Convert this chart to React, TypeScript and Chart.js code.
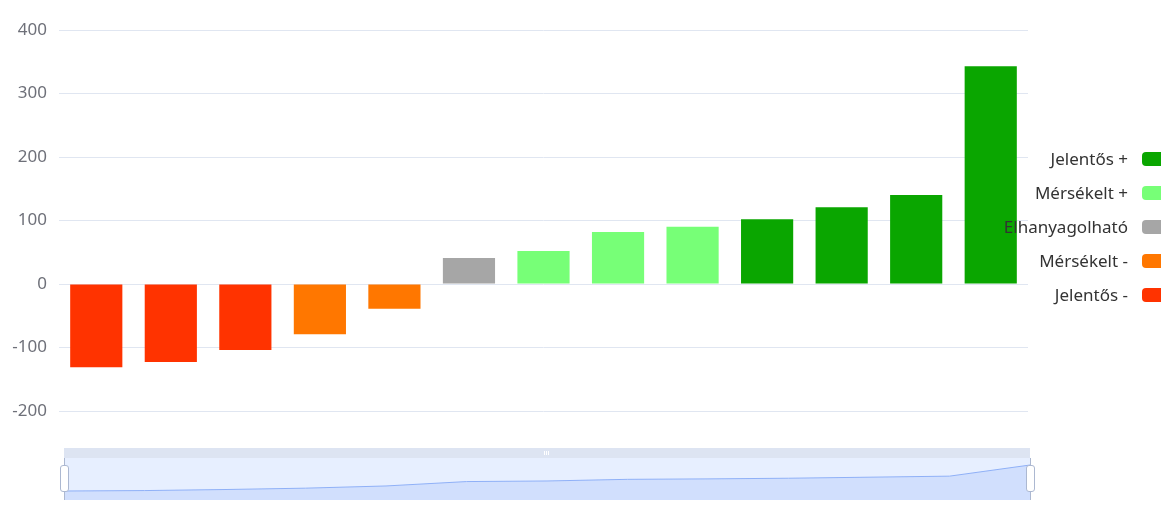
import React, { useEffect, useRef } from 'react';
import { Chart, registerables } from 'chart.js';

Chart.register(...registerables);

// ---- data ----
const categories: string[] = ['1', '2', '3', '4', '5', '6', '7', '8', '9', '10', '11', '12', '13'];
const values: number[] = [-131, -123, -104, -79, -39, 41, 52, 82, 90, 102, 121, 140, 343];
const classes: string[] = [
  'Jelentős -', 'Jelentős -', 'Jelentős -', 'Mérsékelt -', 'Mérsékelt -',
  'Elhanyagolható', 'Mérsékelt +', 'Mérsékelt +', 'Mérsékelt +',
  'Jelentős +', 'Jelentős +', 'Jelentős +', 'Jelentős +',
];
const legendLabels: string[] = ['Jelentős +', 'Mérsékelt +', 'Elhanyagolható', 'Mérsékelt -', 'Jelentős -'];
const legendColors: string[] = ['#0aa600', '#77ff77', '#a6a6a6', '#ff7700', '#ff3300'];
const yMin = -200;
const yMax = 400;
const yStep = 100;

const FONT = '"Noto Sans", "Open Sans", sans-serif';

const colorFor = (c: string) => legendColors[legendLabels.indexOf(c)];

const legendPlugin = {
  id: 'rightLegend',
  afterDraw(chart: any) {
    const ctx = chart.ctx as CanvasRenderingContext2D;
    ctx.save();
    ctx.font = `17px ${FONT}`;
    ctx.textAlign = 'right';
    ctx.textBaseline = 'middle';
    legendLabels.forEach((label, i) => {
      const y = 159 + i * 34;
      ctx.fillStyle = '#333';
      ctx.fillText(label, 1128, y + 1);
      ctx.fillStyle = legendColors[i];
      ctx.beginPath();
      (ctx as any).roundRect(1142, y - 7, 25, 14, 4);
      ctx.fill();
    });
    ctx.restore();
  },
};

export default function App() {
  const mainRef = useRef<HTMLCanvasElement>(null);
  const miniRef = useRef<HTMLCanvasElement>(null);

  useEffect(() => {
    const main = new Chart(mainRef.current!, {
      type: 'bar',
      data: {
        labels: categories,
        datasets: [
          {
            data: values,
            backgroundColor: classes.map(colorFor),
            barPercentage: 0.7,
            categoryPercentage: 1,
          },
        ],
      },
      options: {
        responsive: false,
        animation: false,
        devicePixelRatio: 1,
        layout: { padding: { left: 0, right: 133, top: 30, bottom: 106 } },
        plugins: { legend: { display: false }, tooltip: { enabled: false } },
        scales: {
          x: { display: false },
          y: {
            min: yMin,
            max: yMax,
            afterFit: (s: any) => { s.width = 59; },
            border: { display: false },
            grid: { color: '#e0e6f1', drawTicks: false },
            ticks: {
              stepSize: yStep,
              padding: 12,
              color: '#6e7079',
              font: { size: 17, family: FONT },
            },
          },
        },
      },
      plugins: [legendPlugin],
    });

    const mini = new Chart(miniRef.current!, {
      type: 'line',
      data: {
        labels: categories,
        datasets: [
          {
            data: values,
            borderColor: '#8fb0f7',
            borderWidth: 1,
            pointRadius: 0,
            tension: 0,
            fill: 'start',
            backgroundColor: 'rgba(143,176,247,0.25)',
          },
        ],
      },
      options: {
        responsive: false,
        animation: false,
        devicePixelRatio: 1,
        layout: { padding: 0 },
        plugins: { legend: { display: false }, tooltip: { enabled: false } },
        scales: {
          x: { display: false, offset: false },
          y: { display: false, min: -295, max: 471 },
        },
      },
    });

    return () => {
      main.destroy();
      mini.destroy();
    };
  }, []);

  const handle = (cx: number) => (
    <>
      <div style={{ position: 'absolute', left: cx, top: 458, width: 1, height: 42, background: '#acb8d1' }} />
      <div
        style={{
          position: 'absolute', left: cx - 4, top: 465, width: 7, height: 25,
          background: '#fff', border: '1px solid #acb8d1', borderRadius: 3,
        }}
      />
    </>
  );

  return (
    <div style={{ position: 'fixed', left: 0, top: 0, width: 1161, height: 517, background: '#fff', overflow: 'hidden' }}>
      <canvas ref={mainRef} width={1161} height={517} style={{ position: 'absolute', left: 0, top: 0, width: 1161, height: 517 }} />
      {/* slider move bar */}
      <div style={{ position: 'absolute', left: 64, top: 448, width: 966, height: 10, background: 'rgba(210,219,238,0.75)' }}>
        <div style={{ position: 'absolute', left: 480, top: 3, width: 1, height: 4, background: '#fff' }} />
        <div style={{ position: 'absolute', left: 482, top: 3, width: 1, height: 4, background: '#fff' }} />
        <div style={{ position: 'absolute', left: 484, top: 3, width: 1, height: 4, background: '#fff' }} />
      </div>
      {/* slider body */}
      <div style={{ position: 'absolute', left: 64, top: 458, width: 966, height: 42, background: 'rgba(135,175,255,0.2)' }}>
        <canvas ref={miniRef} width={966} height={42} style={{ position: 'absolute', left: 0, top: 0, width: 966, height: 42 }} />
      </div>
      {handle(64)}
      {handle(1030)}
    </div>
  );
}
